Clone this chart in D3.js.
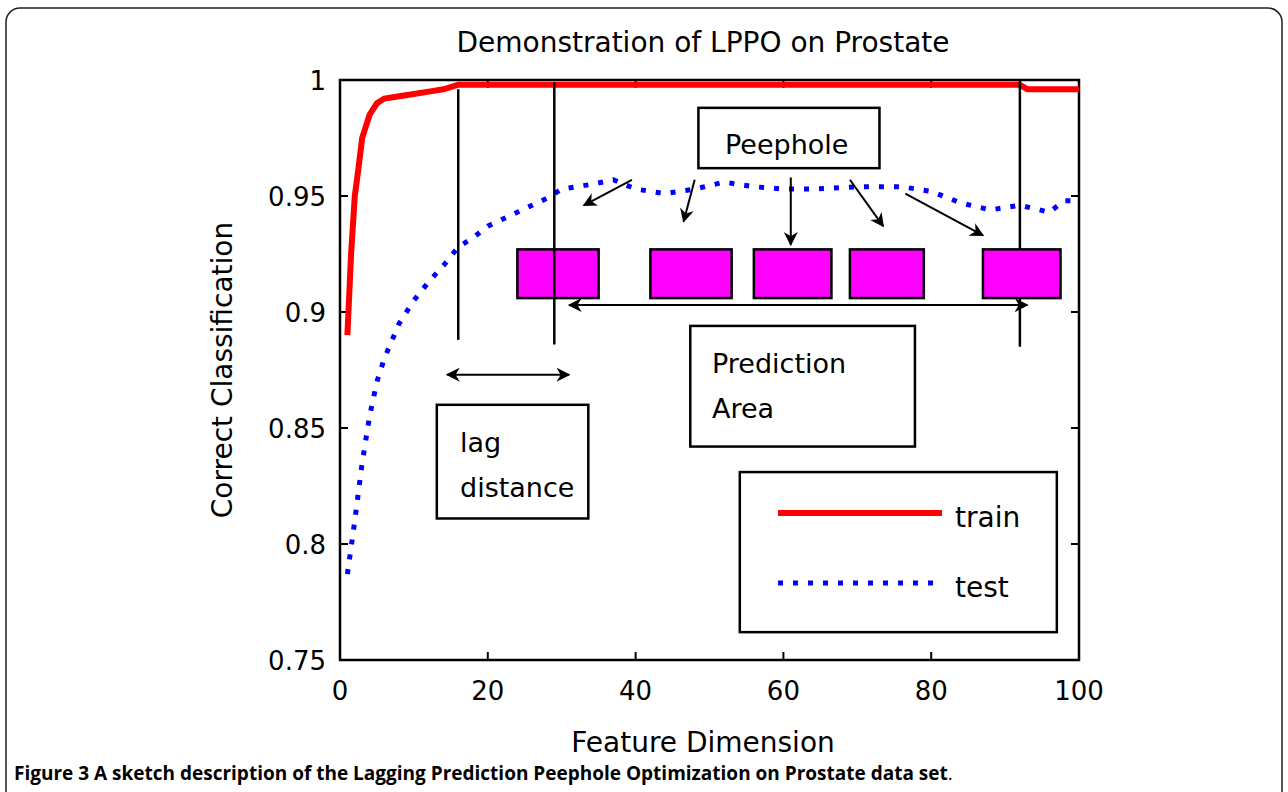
<!DOCTYPE html>
<html><head><meta charset="utf-8">
<script src="https://cdn.jsdelivr.net/npm/d3@7"></script>
<style>body{margin:0;background:#fff;font-family:"DejaVu Sans",sans-serif}</style>
</head><body><div id="wrapper"></div>
<script>
// series
const trainX = [1, 1.5, 2, 2.5, 3, 3.5, 4, 5, 6, 8, 10, 12, 14, 16, 20, 30, 50, 70, 90, 92, 93, 96, 100];
const trainY = [0.89, 0.925, 0.95, 0.962, 0.975, 0.98, 0.985, 0.99, 0.992, 0.993, 0.994, 0.995, 0.996, 0.998, 0.998, 0.998, 0.998, 0.998, 0.998, 0.998, 0.996, 0.996, 0.996];
const testX = [1, 2, 3, 4, 5, 6, 8, 10, 12, 14, 16, 18, 20, 24, 28, 30, 34, 37, 40, 44, 48, 52, 56, 60, 64, 70, 76, 80, 84, 88, 92, 96, 98, 100];
const testY = [0.787, 0.81, 0.835, 0.855, 0.87, 0.88, 0.895, 0.905, 0.913, 0.92, 0.928, 0.932, 0.937, 0.943, 0.949, 0.953, 0.955, 0.957, 0.953, 0.951, 0.953, 0.956, 0.954, 0.953, 0.953, 0.954, 0.954, 0.952, 0.947, 0.944, 0.946, 0.943, 0.948, 0.948];
const xTicks = [0, 20, 40, 60, 80, 100];
const yTicks = [0.75, 0.8, 0.85, 0.9, 0.95, 1];

const W = 1288, H = 792;
const svg = d3.select("#wrapper").append("svg").attr("width", W).attr("height", H);
const font = "'DejaVu Sans', sans-serif";

// figure frame
svg.append("rect").attr("x", 6).attr("y", 8).attr("width", 1276).attr("height", 800)
  .attr("rx", 14).attr("fill", "none").attr("stroke", "#222").attr("stroke-width", 1.5);

const x = d3.scaleLinear().domain([0, 100]).range([340, 1079]);
const y = d3.scaleLinear().domain([0.75, 1]).range([660, 80]);

svg.append("defs").append("marker").attr("id", "ah").attr("viewBox", "0 0 10 10")
  .attr("refX", 9).attr("refY", 5).attr("markerWidth", 7).attr("markerHeight", 7)
  .attr("orient", "auto-start-reverse")
  .append("path").attr("d", "M0,0 L10,5 L0,10 L3,5 Z").attr("fill", "#000");

const g = svg.append("g");
g.append("rect").attr("x", x(0)).attr("y", y(1)).attr("width", x(100) - x(0)).attr("height", y(0.75) - y(1))
  .attr("fill", "#fff").attr("stroke", "#000").attr("stroke-width", 2.5);

// ticks (inward, both sides like MATLAB)
xTicks.forEach(t => {
  g.append("line").attr("x1", x(t)).attr("x2", x(t)).attr("y1", y(0.75)).attr("y2", y(0.75) - 8).attr("stroke", "#000").attr("stroke-width", 2);
  g.append("line").attr("x1", x(t)).attr("x2", x(t)).attr("y1", y(1)).attr("y2", y(1) + 8).attr("stroke", "#000").attr("stroke-width", 2);
  g.append("text").attr("x", x(t)).attr("y", y(0.75) + 40).attr("text-anchor", "middle")
    .attr("font-family", font).attr("font-size", 26).text(t);
});
yTicks.forEach(t => {
  g.append("line").attr("x1", x(0)).attr("x2", x(0) + 8).attr("y1", y(t)).attr("y2", y(t)).attr("stroke", "#000").attr("stroke-width", 2);
  g.append("line").attr("x1", x(100)).attr("x2", x(100) - 8).attr("y1", y(t)).attr("y2", y(t)).attr("stroke", "#000").attr("stroke-width", 2);
  g.append("text").attr("x", x(0) - 14).attr("y", y(t) + 10).attr("text-anchor", "end")
    .attr("font-family", font).attr("font-size", 26).text(t);
});

const line = d3.line().x(d => x(d[0])).y(d => y(d[1]));
g.append("path").attr("d", line(trainX.map((v, i) => [v, trainY[i]])))
  .attr("fill", "none").attr("stroke", "#f00").attr("stroke-width", 6);
g.append("path").attr("d", line(testX.map((v, i) => [v, testY[i]])))
  .attr("fill", "none").attr("stroke", "#00f").attr("stroke-width", 5).attr("stroke-dasharray", "5,10");

// annotation lines
const vlines = [[16, 0.996, 0.888], [29, 0.999, 0.886], [92, 1, 0.885]];
vlines.forEach(d => g.append("line").attr("x1", x(d[0])).attr("x2", x(d[0])).attr("y1", y(d[1])).attr("y2", y(d[2]))
  .attr("stroke", "#000").attr("stroke-width", 2.5));

// peephole boxes
const boxes = [[24, 35], [42, 53], [56, 66.5], [69, 79], [87, 97.5]];
boxes.forEach(b => g.append("rect").attr("x", x(b[0])).attr("y", y(0.927)).attr("width", x(b[1]) - x(b[0]))
  .attr("height", y(0.906) - y(0.927)).attr("fill", "#f0f").attr("stroke", "#000").attr("stroke-width", 2.5));
g.append("line").attr("x1", x(29)).attr("x2", x(29)).attr("y1", y(0.927)).attr("y2", y(0.906)).attr("stroke", "#000").attr("stroke-width", 2.5);

const arrow = (x1, y1, x2, y2, both) => {
  const l = g.append("line").attr("x1", x(x1)).attr("y1", y(y1)).attr("x2", x(x2)).attr("y2", y(y2))
    .attr("stroke", "#000").attr("stroke-width", 2).attr("marker-end", "url(#ah)");
  if (both) l.attr("marker-start", "url(#ah)");
};
arrow(14.5, 0.873, 31, 0.873, true);
arrow(31, 0.903, 93, 0.903, true);
const peepArrows = [[39.5, 0.957, 33, 0.946], [48, 0.957, 46.5, 0.939], [61, 0.958, 61, 0.929], [69, 0.957, 73.5, 0.937], [76.5, 0.951, 87, 0.933]];
peepArrows.forEach(a => arrow(a[0], a[1], a[2], a[3], false));

// text boxes
const tbox = (x0, x1, y0, y1, lines, lx, ly) => {
  g.append("rect").attr("x", x(x0)).attr("y", y(y0)).attr("width", x(x1) - x(x0)).attr("height", y(y1) - y(y0))
    .attr("fill", "#fff").attr("stroke", "#000").attr("stroke-width", 2.5);
  lines.forEach((t, i) => g.append("text").attr("x", lx).attr("y", ly + i * 45)
    .attr("font-family", font).attr("font-size", 27).text(t));
};
tbox(48.5, 73, 0.988, 0.962, ["Peephole"], 725, 154);
tbox(47.4, 77.8, 0.894, 0.842, ["Prediction", "Area"], 712, 373);
tbox(13.1, 33.6, 0.860, 0.811, ["lag", "distance"], 460, 452);

// legend
tbox(54.1, 97, 0.831, 0.762, [], 0, 0);
g.append("line").attr("x1", 778).attr("x2", 942).attr("y1", 513).attr("y2", 513).attr("stroke", "#f00").attr("stroke-width", 6);
g.append("line").attr("x1", 778).attr("x2", 942).attr("y1", 583).attr("y2", 583).attr("stroke", "#00f").attr("stroke-width", 5).attr("stroke-dasharray", "5,10");
g.append("text").attr("x", 955).attr("y", 527).attr("font-family", font).attr("font-size", 28).text("train");
g.append("text").attr("x", 955).attr("y", 597).attr("font-family", font).attr("font-size", 28).text("test");

// titles
svg.append("text").attr("x", 703).attr("y", 52).attr("text-anchor", "middle").attr("font-family", font)
  .attr("font-size", 28).text("Demonstration of LPPO on Prostate");
svg.append("text").attr("x", 703).attr("y", 752).attr("text-anchor", "middle").attr("font-family", font)
  .attr("font-size", 28).text("Feature Dimension");
svg.append("text").attr("transform", "translate(232,370) rotate(-90)").attr("text-anchor", "middle")
  .attr("font-family", font).attr("font-size", 28).text("Correct Classification");

const cap = svg.append("text").attr("x", 14).attr("y", 780).attr("font-family", "'Open Sans', sans-serif").attr("font-size", 19);
cap.append("tspan").attr("font-weight", "bold").text("Figure 3 ");
cap.append("tspan").attr("font-weight", "bold").text("A sketch description of the Lagging Prediction Peephole Optimization on Prostate data set");
cap.append("tspan").text(".");
</script></body></html>
